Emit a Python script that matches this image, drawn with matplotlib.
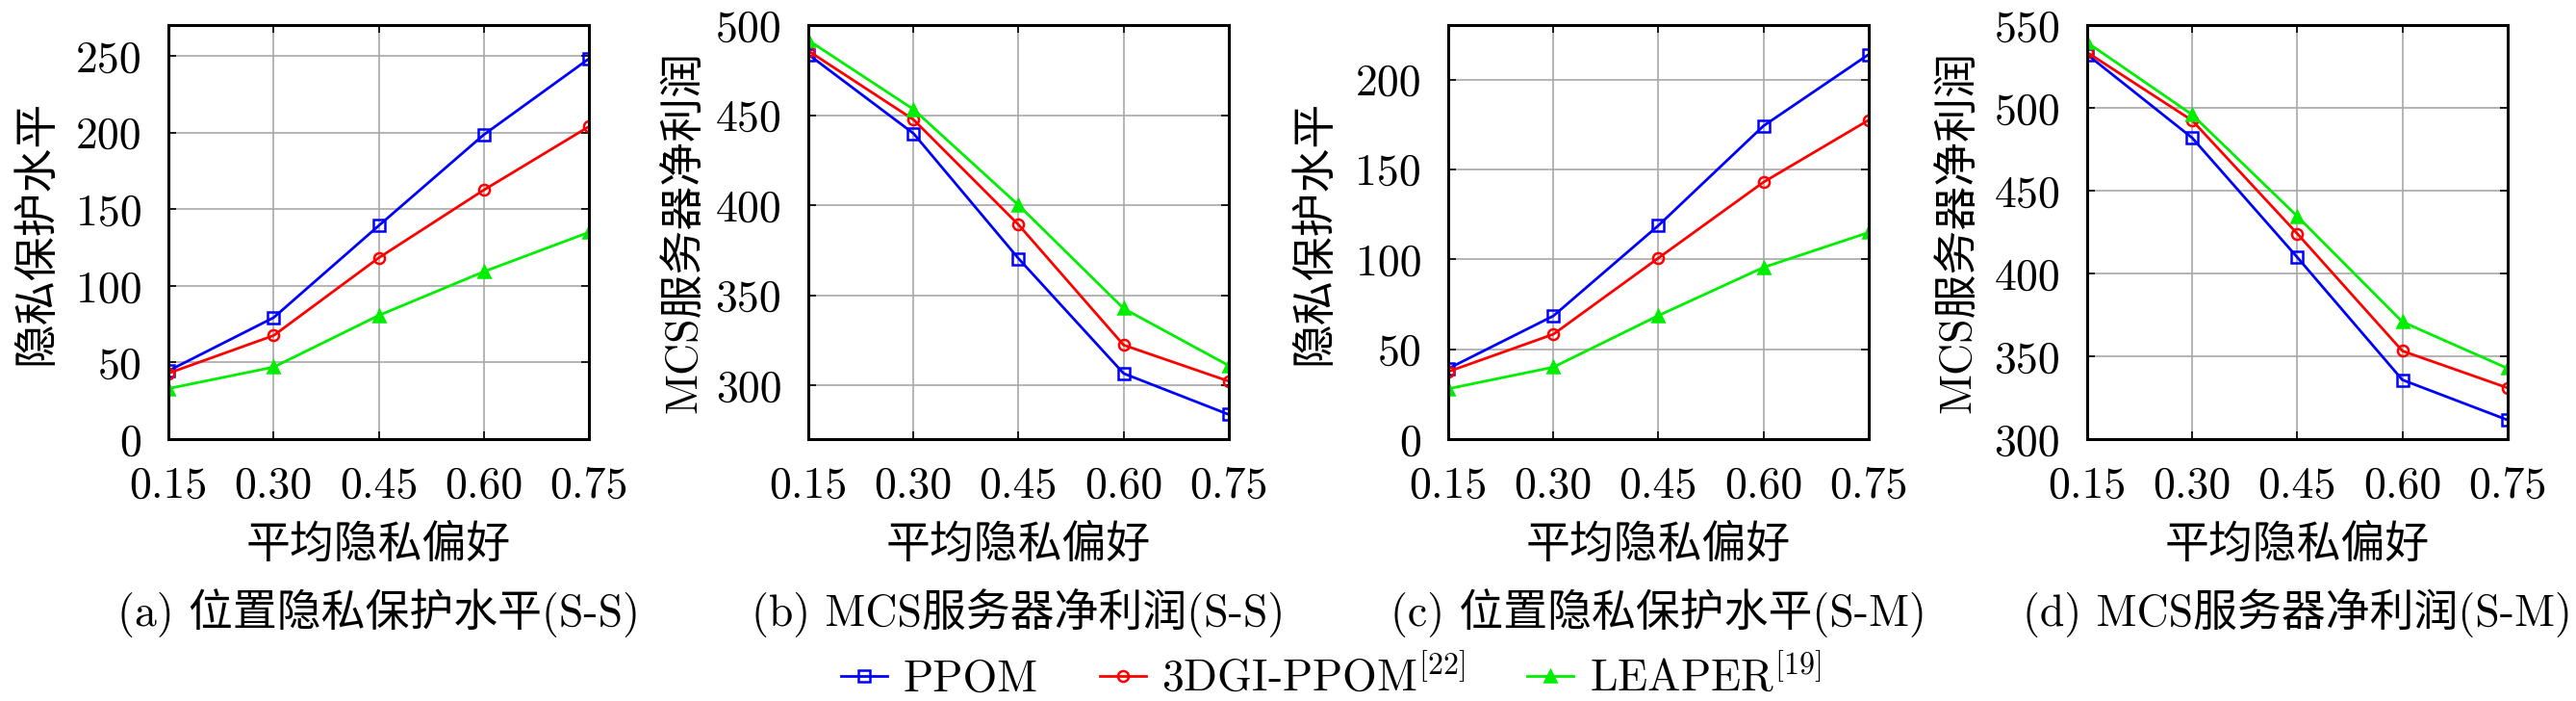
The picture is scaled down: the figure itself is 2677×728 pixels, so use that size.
import matplotlib
matplotlib.use("Agg")
import matplotlib.pyplot as plt

plt.rcParams['font.family'] = ['cmr10', 'Noto Sans CJK SC']
plt.rcParams['font.weight'] = 'light'
plt.rcParams['mathtext.fontset'] = 'cm'
plt.rcParams['axes.unicode_minus'] = False
plt.rcParams['font.size'] = 33

# ---- data ----
pref = [0.15, 0.30, 0.45, 0.60, 0.75]
xticklabels = ["0.15", "0.30", "0.45", "0.60", "0.75"]
series_names = ["PPOM", "3DGI-PPOM$^{[22]}$", "LEAPER$^{[19]}$"]

# (a) location privacy level, S-S
ppom_a = [44.6, 79.3, 139.3, 198.7, 248.3]
dgi_a = [43.0, 67.6, 118.3, 162.6, 204.0]
leaper_a = [33.0, 47.0, 80.7, 109.3, 135.0]

# (b) MCS net profit, S-S
ppom_b = [483.9, 440.0, 370.4, 306.5, 283.7]
dgi_b = [485.9, 447.7, 389.2, 322.3, 302.2]
leaper_b = [491.8, 453.4, 400.1, 342.6, 310.9]

# (c) location privacy level, S-M
ppom_c = [39.2, 68.5, 118.8, 174.2, 213.9]
dgi_c = [37.5, 58.3, 100.7, 142.9, 177.4]
leaper_c = [28.0, 40.0, 68.7, 95.5, 114.9]

# (d) MCS net profit, S-M
ppom_d = [532.5, 482.1, 409.9, 335.8, 311.6]
dgi_d = [533.8, 492.6, 424.2, 353.3, 331.0]
leaper_d = [539.8, 496.1, 434.7, 370.9, 342.8]

panels = [
    ([ppom_a, dgi_a, leaper_a], "隐私保护水平", "(a) 位置隐私保护水平(S-S)", (0, 270), [0, 50, 100, 150, 200, 250]),
    ([ppom_b, dgi_b, leaper_b], "MCS服务器净利润", "(b) MCS服务器净利润(S-S)", (270, 500), [300, 350, 400, 450, 500]),
    ([ppom_c, dgi_c, leaper_c], "隐私保护水平", "(c) 位置隐私保护水平(S-M)", (0, 230), [0, 50, 100, 150, 200]),
    ([ppom_d, dgi_d, leaper_d], "MCS服务器净利润", "(d) MCS服务器净利润(S-M)", (300, 550), [300, 350, 400, 450, 500, 550]),
]

colors = ["#0000ff", "#ff0000", "#00ee00"]
markers = ["s", "o", "^"]
facecols = ["none", "none", "#00ee00"]

lefts = [0.0654, 0.3138, 0.5622, 0.8102]
ylab_x = [-0.313, -0.295, -0.319, -0.307]

fig = plt.figure(figsize=(26.77, 7.28), dpi=100)

handles = []
for i, (data, ylab, cap, ylim, yticks) in enumerate(panels):
    ax = fig.add_axes([lefts[i], 0.3736, 0.1632, 0.590])
    for j, vals in enumerate(data):
        h, = ax.plot(pref, vals, color=colors[j], marker=markers[j], lw=2,
                     ms=8, mec=colors[j], mfc=facecols[j], mew=1.8)
        if i == 0:
            handles.append(h)
    ax.set_xlim(0.15, 0.75)
    ax.set_ylim(*ylim)
    ax.set_xticks(pref)
    ax.set_xticklabels(xticklabels)
    ax.set_yticks(yticks)
    ax.grid(True, color="#a8a8a8", lw=1.2)
    ax.tick_params(direction="in", top=True, right=True, length=6, width=1.2, pad=20)
    for s in ax.spines.values():
        s.set_linewidth(2.2)
    ax.set_ylabel(ylab, va="center")
    ax.yaxis.set_label_coords(ylab_x[i], 0.5)
    ax.set_xlabel("平均隐私偏好", va="center")
    ax.xaxis.set_label_coords(0.5, -0.256)
    fig.text(lefts[i] + 0.1632 / 2, 0.126, cap, ha="center", va="center")

fig.legend(handles, series_names, loc="center", bbox_to_anchor=(0.5166, 0.034),
           ncol=3, frameon=False, handlelength=1.05, handletextpad=0.36,
           columnspacing=1.4, borderaxespad=0)

fig.savefig("out.png", dpi=100)
